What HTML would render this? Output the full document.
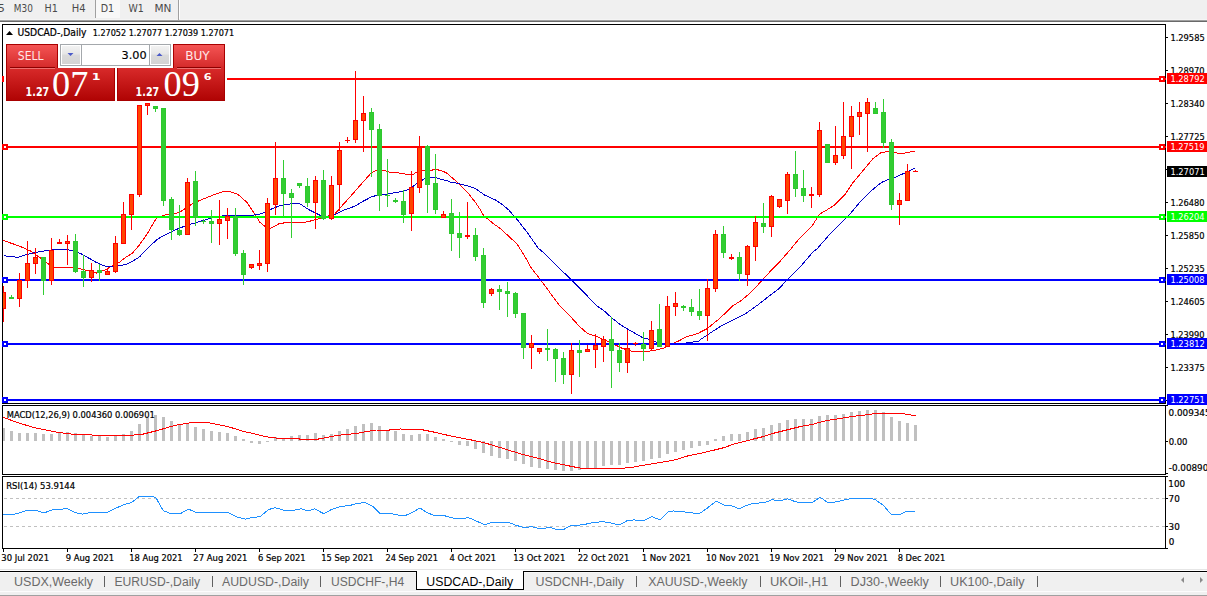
<!DOCTYPE html>
<html><head><meta charset="utf-8"><title>USDCAD-,Daily</title>
<style>
html,body{margin:0;padding:0;background:#fff;}
body{width:1207px;height:596px;overflow:hidden;}
svg{display:block;}
text{white-space:pre;}
</style></head>
<body>
<svg width="1207" height="596" viewBox="0 0 1207 596">
<rect x="0" y="0" width="1207" height="596" fill="#fff"/>
<rect x="0" y="0" width="1207" height="19" fill="#f0f0f0"/>
<rect x="0" y="19" width="1207" height="1" fill="#f5f5f5"/>
<rect x="0" y="20" width="1207" height="1" fill="#a0a0a0"/>
<rect x="0" y="21" width="1207" height="1" fill="#696969"/>
<rect x="96" y="0" width="24" height="18" fill="#f8f8f8"/>
<rect x="95" y="0" width="1" height="18" fill="#a0a0a0"/>
<rect x="178" y="0" width="1" height="20" fill="#a0a0a0"/>
<rect x="179" y="0" width="1" height="19" fill="#ffffff"/>
<text x="-2.4" y="12.3" font-family="'DejaVu Sans Condensed', 'DejaVu Sans', sans-serif" font-size="9.6" fill="#4a4a4a" text-anchor="start" font-weight="normal" textLength="7.41" lengthAdjust="spacingAndGlyphs">5</text>
<text x="13.83" y="12.3" font-family="'DejaVu Sans Condensed', 'DejaVu Sans', sans-serif" font-size="9.6" fill="#4a4a4a" text-anchor="start" font-weight="normal" textLength="19.06" lengthAdjust="spacingAndGlyphs">M30</text>
<text x="44.56" y="12.3" font-family="'DejaVu Sans Condensed', 'DejaVu Sans', sans-serif" font-size="9.6" fill="#4a4a4a" text-anchor="start" font-weight="normal" textLength="13.32" lengthAdjust="spacingAndGlyphs">H1</text>
<text x="71.73" y="12.3" font-family="'DejaVu Sans Condensed', 'DejaVu Sans', sans-serif" font-size="9.6" fill="#4a4a4a" text-anchor="start" font-weight="normal" textLength="13.82" lengthAdjust="spacingAndGlyphs">H4</text>
<text x="100.67" y="12.3" font-family="'DejaVu Sans Condensed', 'DejaVu Sans', sans-serif" font-size="9.6" fill="#4a4a4a" text-anchor="start" font-weight="normal" textLength="13.41" lengthAdjust="spacingAndGlyphs">D1</text>
<text x="128.59" y="12.3" font-family="'DejaVu Sans Condensed', 'DejaVu Sans', sans-serif" font-size="9.6" fill="#4a4a4a" text-anchor="start" font-weight="normal" textLength="15.27" lengthAdjust="spacingAndGlyphs">W1</text>
<text x="154.47" y="12.3" font-family="'DejaVu Sans Condensed', 'DejaVu Sans', sans-serif" font-size="9.6" fill="#4a4a4a" text-anchor="start" font-weight="normal" textLength="16.96" lengthAdjust="spacingAndGlyphs">MN</text>
<rect x="2" y="24" width="1164" height="1" fill="#000"/>
<rect x="2" y="403" width="1164" height="1" fill="#000"/>
<rect x="2" y="24" width="1" height="380" fill="#000"/>
<rect x="1165" y="24" width="1" height="380" fill="#000"/>
<rect x="2" y="405" width="1164" height="1" fill="#000"/>
<rect x="2" y="474" width="1164" height="1" fill="#000"/>
<rect x="2" y="405" width="1" height="70" fill="#000"/>
<rect x="1165" y="405" width="1" height="70" fill="#000"/>
<rect x="2" y="476" width="1164" height="1" fill="#000"/>
<rect x="2" y="548" width="1164" height="1" fill="#000"/>
<rect x="2" y="476" width="1" height="73" fill="#000"/>
<rect x="1165" y="476" width="1" height="73" fill="#000"/>
<rect x="1166" y="37" width="2" height="1" fill="#000"/>
<text x="1170.39" y="40.8" font-family="'DejaVu Sans Condensed', 'DejaVu Sans', sans-serif" font-size="9.4" fill="#000" text-anchor="start" font-weight="normal" textLength="34.33" lengthAdjust="spacingAndGlyphs" stroke="#000" stroke-width="0.2">1.29585</text>
<rect x="1166" y="70" width="2" height="1" fill="#000"/>
<text x="1170.39" y="73.8" font-family="'DejaVu Sans Condensed', 'DejaVu Sans', sans-serif" font-size="9.4" fill="#000" text-anchor="start" font-weight="normal" textLength="34.15" lengthAdjust="spacingAndGlyphs" stroke="#000" stroke-width="0.2">1.28970</text>
<rect x="1166" y="103" width="2" height="1" fill="#000"/>
<text x="1170.39" y="106.8" font-family="'DejaVu Sans Condensed', 'DejaVu Sans', sans-serif" font-size="9.4" fill="#000" text-anchor="start" font-weight="normal" textLength="34.15" lengthAdjust="spacingAndGlyphs" stroke="#000" stroke-width="0.2">1.28340</text>
<rect x="1166" y="136" width="2" height="1" fill="#000"/>
<text x="1170.39" y="139.8" font-family="'DejaVu Sans Condensed', 'DejaVu Sans', sans-serif" font-size="9.4" fill="#000" text-anchor="start" font-weight="normal" textLength="34.33" lengthAdjust="spacingAndGlyphs" stroke="#000" stroke-width="0.2">1.27725</text>
<rect x="1166" y="169" width="2" height="1" fill="#000"/>
<rect x="1166" y="202" width="2" height="1" fill="#000"/>
<text x="1170.39" y="205.8" font-family="'DejaVu Sans Condensed', 'DejaVu Sans', sans-serif" font-size="9.4" fill="#000" text-anchor="start" font-weight="normal" textLength="34.15" lengthAdjust="spacingAndGlyphs" stroke="#000" stroke-width="0.2">1.26480</text>
<rect x="1166" y="235" width="2" height="1" fill="#000"/>
<text x="1170.39" y="238.8" font-family="'DejaVu Sans Condensed', 'DejaVu Sans', sans-serif" font-size="9.4" fill="#000" text-anchor="start" font-weight="normal" textLength="34.15" lengthAdjust="spacingAndGlyphs" stroke="#000" stroke-width="0.2">1.25850</text>
<rect x="1166" y="268" width="2" height="1" fill="#000"/>
<text x="1170.39" y="271.8" font-family="'DejaVu Sans Condensed', 'DejaVu Sans', sans-serif" font-size="9.4" fill="#000" text-anchor="start" font-weight="normal" textLength="34.33" lengthAdjust="spacingAndGlyphs" stroke="#000" stroke-width="0.2">1.25235</text>
<rect x="1166" y="301" width="2" height="1" fill="#000"/>
<text x="1170.39" y="304.8" font-family="'DejaVu Sans Condensed', 'DejaVu Sans', sans-serif" font-size="9.4" fill="#000" text-anchor="start" font-weight="normal" textLength="34.33" lengthAdjust="spacingAndGlyphs" stroke="#000" stroke-width="0.2">1.24605</text>
<rect x="1166" y="334" width="2" height="1" fill="#000"/>
<text x="1170.39" y="337.8" font-family="'DejaVu Sans Condensed', 'DejaVu Sans', sans-serif" font-size="9.4" fill="#000" text-anchor="start" font-weight="normal" textLength="34.15" lengthAdjust="spacingAndGlyphs" stroke="#000" stroke-width="0.2">1.23990</text>
<rect x="1166" y="367" width="2" height="1" fill="#000"/>
<text x="1170.39" y="370.8" font-family="'DejaVu Sans Condensed', 'DejaVu Sans', sans-serif" font-size="9.4" fill="#000" text-anchor="start" font-weight="normal" textLength="34.33" lengthAdjust="spacingAndGlyphs" stroke="#000" stroke-width="0.2">1.23375</text>
<rect x="1166" y="400" width="2" height="1" fill="#000"/>
<defs><clipPath id="mainclip"><rect x="3" y="25" width="1162" height="378"/></clipPath><clipPath id="macdclip"><rect x="3" y="406" width="1162" height="68"/></clipPath><clipPath id="rsiclip"><rect x="3" y="477" width="1162" height="71"/></clipPath></defs>
<g clip-path="url(#mainclip)" shape-rendering="crispEdges">
<polyline points="3.5,240.5 20.5,246.5 30.5,251.0 40.5,258.0 52.5,267.0 77.5,268.0 96.5,273.0 104.5,270.3 111.3,266.3 118.6,262.9 125.4,257.5 132.1,253.5 139.5,244.8 147.5,233.4 156.5,217.9 164.6,215.1 178.7,212.8 192.8,203.4 206.9,197.5 221.0,192.1 228.0,191.1 237.4,194.0 246.8,202.2 253.9,212.8 259.8,222.2 265.6,226.9 270.5,228.5 279.7,223.3 293.8,222.2 302.8,222.6 310.5,221.0 322.2,217.9 334.0,213.9 334.5,214.3 340.5,207.5 350.5,196.3 360.5,185.0 370.8,173.3 376.1,170.6 385.5,170.9 390.5,172.6 400.5,173.1 408.5,174.7 413.6,174.1 417.6,171.6 423.7,170.6 430.7,170.6 433.7,169.6 437.7,169.8 442.8,171.1 446.8,173.1 450.5,176.5 455.5,180.5 460.5,185.6 465.6,190.6 468.6,193.6 471.6,197.7 475.7,202.7 479.7,208.7 483.7,215.8 487.7,218.8 492.8,223.3 500.5,228.6 511.2,238.6 516.6,243.3 524.7,256.1 531.4,268.2 539.4,278.2 554.2,298.4 560.5,306.7 570.6,316.7 579.0,326.0 587.4,333.5 597.4,336.9 610.9,342.7 620.9,347.8 631.0,351.1 644.4,352.0 654.5,350.3 664.6,347.8 671.3,344.4 680.5,340.0 684.8,337.4 699.0,333.1 700.5,332.0 707.2,328.6 720.6,317.7 732.4,306.0 740.8,300.9 750.8,292.5 760.9,281.6 769.3,272.4 777.7,264.0 789.5,250.6 797.8,240.5 812.6,225.1 819.6,214.1 826.7,210.0 834.7,205.0 844.8,194.9 852.8,182.8 862.9,170.8 873.0,158.7 881.0,152.6 888.1,151.6 895.1,152.6 901.2,153.7 909.2,152.2 915.3,151.2" fill="none" stroke="#ff0000" stroke-width="1" />
<polyline points="3.5,255.7 18.1,257.3 26.3,254.5 40.5,251.5 56.9,249.3 68.6,249.8 80.4,253.3 96.5,262.5 104.5,266.0 112.5,266.3 118.5,265.6 125.5,264.7 132.1,261.6 139.5,256.9 147.5,248.2 156.5,240.1 162.2,236.3 174.0,230.4 185.7,225.7 197.5,222.2 209.2,218.6 223.3,215.8 237.4,215.1 253.9,215.1 260.9,213.9 268.0,210.4 279.7,205.7 291.5,203.8 300.1,203.9 308.1,209.3 321.5,216.0 332.3,216.0 334.5,214.9 343.9,210.2 354.7,206.2 362.7,201.5 370.8,197.2 376.1,195.5 382.8,194.8 390.5,193.5 400.5,191.8 405.5,190.8 410.5,188.2 416.6,183.7 424.7,178.7 430.7,177.7 435.8,177.7 440.8,179.2 446.8,180.7 450.5,182.1 455.5,182.8 460.5,184.1 465.6,185.4 470.6,186.8 475.7,188.6 479.7,191.6 484.7,195.1 490.7,197.7 495.8,200.2 500.5,203.2 508.8,210.0 517.9,220.5 527.3,232.6 538.1,248.0 543.5,252.7 560.5,269.7 567.2,275.6 573.9,282.3 584.0,292.4 595.7,305.0 604.1,310.9 612.5,318.4 620.9,325.1 631.0,331.0 642.7,337.7 649.5,339.4 657.8,342.7 664.6,344.4 670.5,343.6 685.5,343.1 699.0,341.1 700.5,339.5 710.6,332.8 722.3,325.2 734.1,319.4 745.8,313.5 757.6,305.1 769.3,295.9 779.4,288.3 786.1,280.8 800.5,266.5 813.1,251.8 816.6,249.3 824.5,240.4 830.7,233.2 840.8,223.1 850.8,213.0 860.9,201.0 871.0,190.9 881.0,182.8 887.1,179.8 895.1,177.4 905.2,172.8 915.3,167.7" fill="none" stroke="#0000c8" stroke-width="1" />
</g>
<g shape-rendering="crispEdges">
<rect x="3" y="78" width="1163" height="2" fill="#ff0000"/>
<rect x="2" y="76" width="6" height="6" fill="#ff0000"/>
<rect x="4" y="78" width="2" height="2" fill="#fff"/>
<rect x="1159" y="76" width="6" height="6" fill="#ff0000"/>
<rect x="1161" y="78" width="2" height="2" fill="#fff"/>
<rect x="1167" y="73" width="40" height="11" fill="#ff0000"/>
<text x="1170.39" y="81.8" font-family="'DejaVu Sans Condensed', 'DejaVu Sans', sans-serif" font-size="9.4" fill="#fff" text-anchor="start" font-weight="normal" textLength="34.44" lengthAdjust="spacingAndGlyphs">1.28792</text>
<rect x="3" y="146" width="1163" height="2" fill="#ff0000"/>
<rect x="2" y="144" width="6" height="6" fill="#ff0000"/>
<rect x="4" y="146" width="2" height="2" fill="#fff"/>
<rect x="1159" y="144" width="6" height="6" fill="#ff0000"/>
<rect x="1161" y="146" width="2" height="2" fill="#fff"/>
<rect x="1167" y="141" width="40" height="11" fill="#ff0000"/>
<text x="1170.39" y="149.8" font-family="'DejaVu Sans Condensed', 'DejaVu Sans', sans-serif" font-size="9.4" fill="#fff" text-anchor="start" font-weight="normal" textLength="34.18" lengthAdjust="spacingAndGlyphs">1.27519</text>
<rect x="3" y="216" width="1163" height="2" fill="#00ff00"/>
<rect x="2" y="214" width="6" height="6" fill="#00ff00"/>
<rect x="4" y="216" width="2" height="2" fill="#fff"/>
<rect x="1159" y="214" width="6" height="6" fill="#00ff00"/>
<rect x="1161" y="216" width="2" height="2" fill="#fff"/>
<rect x="1167" y="211" width="40" height="11" fill="#00ff00"/>
<text x="1170.4" y="219.8" font-family="'DejaVu Sans Condensed', 'DejaVu Sans', sans-serif" font-size="9.4" fill="#fff" text-anchor="start" font-weight="normal" textLength="34.06" lengthAdjust="spacingAndGlyphs">1.26204</text>
<rect x="3" y="279" width="1163" height="2" fill="#0000ff"/>
<rect x="2" y="277" width="6" height="6" fill="#0000ff"/>
<rect x="4" y="279" width="2" height="2" fill="#fff"/>
<rect x="1159" y="277" width="6" height="6" fill="#0000ff"/>
<rect x="1161" y="279" width="2" height="2" fill="#fff"/>
<rect x="1167" y="274" width="40" height="11" fill="#0000ff"/>
<text x="1170.39" y="282.8" font-family="'DejaVu Sans Condensed', 'DejaVu Sans', sans-serif" font-size="9.4" fill="#fff" text-anchor="start" font-weight="normal" textLength="34.17" lengthAdjust="spacingAndGlyphs">1.25008</text>
<rect x="3" y="343" width="1163" height="2" fill="#0000ff"/>
<rect x="2" y="341" width="6" height="6" fill="#0000ff"/>
<rect x="4" y="343" width="2" height="2" fill="#fff"/>
<rect x="1159" y="341" width="6" height="6" fill="#0000ff"/>
<rect x="1161" y="343" width="2" height="2" fill="#fff"/>
<rect x="1167" y="338" width="40" height="11" fill="#0000ff"/>
<text x="1170.39" y="346.8" font-family="'DejaVu Sans Condensed', 'DejaVu Sans', sans-serif" font-size="9.4" fill="#fff" text-anchor="start" font-weight="normal" textLength="34.44" lengthAdjust="spacingAndGlyphs">1.23812</text>
<rect x="3" y="399" width="1163" height="2" fill="#0000ff"/>
<rect x="2" y="397" width="6" height="6" fill="#0000ff"/>
<rect x="4" y="399" width="2" height="2" fill="#fff"/>
<rect x="1159" y="397" width="6" height="6" fill="#0000ff"/>
<rect x="1161" y="399" width="2" height="2" fill="#fff"/>
<rect x="1167" y="394" width="40" height="11" fill="#0000ff"/>
<text x="1170.39" y="402.8" font-family="'DejaVu Sans Condensed', 'DejaVu Sans', sans-serif" font-size="9.4" fill="#fff" text-anchor="start" font-weight="normal" textLength="34.37" lengthAdjust="spacingAndGlyphs">1.22751</text>
<rect x="1167" y="166" width="40" height="11" fill="#000"/>
<text x="1170.39" y="175" font-family="'DejaVu Sans Condensed', 'DejaVu Sans', sans-serif" font-size="9.4" fill="#fff" text-anchor="start" font-weight="normal" textLength="34.37" lengthAdjust="spacingAndGlyphs">1.27071</text>
</g>
<g clip-path="url(#mainclip)" shape-rendering="crispEdges">
<rect x="3" y="286" width="1" height="36" fill="#ff0000"/>
<rect x="1" y="292" width="5" height="17" fill="#ff0000"/>
<rect x="2" y="293" width="3" height="15" fill="#ff4500"/>
<rect x="11" y="295" width="1" height="4" fill="#32cd32"/>
<rect x="9" y="297" width="5" height="2" fill="#2ec82e"/>
<rect x="19" y="273" width="1" height="34" fill="#ff0000"/>
<rect x="17" y="280" width="5" height="19" fill="#ff0000"/>
<rect x="18" y="281" width="3" height="17" fill="#ff4500"/>
<rect x="27" y="241" width="1" height="47" fill="#ff0000"/>
<rect x="25" y="263" width="5" height="18" fill="#ff0000"/>
<rect x="26" y="264" width="3" height="16" fill="#ff4500"/>
<rect x="35" y="248" width="1" height="26" fill="#ff0000"/>
<rect x="33" y="257" width="5" height="7" fill="#ff0000"/>
<rect x="34" y="258" width="3" height="5" fill="#ff4500"/>
<rect x="43" y="257" width="1" height="38" fill="#32cd32"/>
<rect x="41" y="257" width="5" height="24" fill="#2ec82e"/>
<rect x="42" y="258" width="3" height="22" fill="#32cd32"/>
<rect x="51" y="238" width="1" height="47" fill="#ff0000"/>
<rect x="49" y="250" width="5" height="31" fill="#ff0000"/>
<rect x="50" y="251" width="3" height="29" fill="#ff4500"/>
<rect x="59" y="239" width="1" height="5" fill="#ff0000"/>
<rect x="57" y="242" width="5" height="2" fill="#ff0000"/>
<rect x="67" y="235" width="1" height="30" fill="#ff0000"/>
<rect x="65" y="241" width="5" height="3" fill="#ff0000"/>
<rect x="66" y="242" width="3" height="1" fill="#ff4500"/>
<rect x="75" y="234" width="1" height="39" fill="#32cd32"/>
<rect x="73" y="241" width="5" height="31" fill="#2ec82e"/>
<rect x="74" y="242" width="3" height="29" fill="#32cd32"/>
<rect x="83" y="255" width="1" height="32" fill="#32cd32"/>
<rect x="81" y="271" width="5" height="7" fill="#2ec82e"/>
<rect x="82" y="272" width="3" height="5" fill="#32cd32"/>
<rect x="91" y="263" width="1" height="19" fill="#ff0000"/>
<rect x="89" y="270" width="5" height="8" fill="#ff0000"/>
<rect x="90" y="271" width="3" height="6" fill="#ff4500"/>
<rect x="99" y="264" width="1" height="17" fill="#32cd32"/>
<rect x="97" y="270" width="5" height="3" fill="#2ec82e"/>
<rect x="98" y="271" width="3" height="1" fill="#32cd32"/>
<rect x="107" y="269" width="1" height="6" fill="#ff0000"/>
<rect x="105" y="271" width="5" height="4" fill="#ff0000"/>
<rect x="106" y="272" width="3" height="2" fill="#ff4500"/>
<rect x="115" y="236" width="1" height="37" fill="#ff0000"/>
<rect x="113" y="243" width="5" height="29" fill="#ff0000"/>
<rect x="114" y="244" width="3" height="27" fill="#ff4500"/>
<rect x="123" y="202" width="1" height="42" fill="#ff0000"/>
<rect x="121" y="214" width="5" height="30" fill="#ff0000"/>
<rect x="122" y="215" width="3" height="28" fill="#ff4500"/>
<rect x="131" y="194" width="1" height="36" fill="#ff0000"/>
<rect x="129" y="194" width="5" height="21" fill="#ff0000"/>
<rect x="130" y="195" width="3" height="19" fill="#ff4500"/>
<rect x="139" y="105" width="1" height="92" fill="#ff0000"/>
<rect x="137" y="105" width="5" height="90" fill="#ff0000"/>
<rect x="138" y="106" width="3" height="88" fill="#ff4500"/>
<rect x="147" y="103" width="1" height="12" fill="#ff0000"/>
<rect x="145" y="103" width="5" height="3" fill="#ff0000"/>
<rect x="146" y="104" width="3" height="1" fill="#ff4500"/>
<rect x="155" y="106" width="1" height="6" fill="#32cd32"/>
<rect x="153" y="106" width="5" height="3" fill="#2ec82e"/>
<rect x="154" y="107" width="3" height="1" fill="#32cd32"/>
<rect x="163" y="108" width="1" height="98" fill="#32cd32"/>
<rect x="161" y="108" width="5" height="93" fill="#2ec82e"/>
<rect x="162" y="109" width="3" height="91" fill="#32cd32"/>
<rect x="171" y="197" width="1" height="43" fill="#32cd32"/>
<rect x="169" y="199" width="5" height="31" fill="#2ec82e"/>
<rect x="170" y="200" width="3" height="29" fill="#32cd32"/>
<rect x="179" y="205" width="1" height="31" fill="#32cd32"/>
<rect x="177" y="230" width="5" height="5" fill="#2ec82e"/>
<rect x="178" y="231" width="3" height="3" fill="#32cd32"/>
<rect x="187" y="178" width="1" height="57" fill="#ff0000"/>
<rect x="185" y="182" width="5" height="53" fill="#ff0000"/>
<rect x="186" y="183" width="3" height="51" fill="#ff4500"/>
<rect x="195" y="171" width="1" height="55" fill="#32cd32"/>
<rect x="193" y="181" width="5" height="37" fill="#2ec82e"/>
<rect x="194" y="182" width="3" height="35" fill="#32cd32"/>
<rect x="203" y="219" width="1" height="5" fill="#32cd32"/>
<rect x="201" y="221" width="5" height="1" fill="#2ec82e"/>
<rect x="211" y="210" width="1" height="33" fill="#32cd32"/>
<rect x="209" y="221" width="5" height="3" fill="#2ec82e"/>
<rect x="210" y="222" width="3" height="1" fill="#32cd32"/>
<rect x="219" y="200" width="1" height="45" fill="#ff0000"/>
<rect x="217" y="219" width="5" height="5" fill="#ff0000"/>
<rect x="218" y="220" width="3" height="3" fill="#ff4500"/>
<rect x="227" y="208" width="1" height="31" fill="#ff0000"/>
<rect x="225" y="216" width="5" height="5" fill="#ff0000"/>
<rect x="226" y="217" width="3" height="3" fill="#ff4500"/>
<rect x="235" y="208" width="1" height="48" fill="#32cd32"/>
<rect x="233" y="216" width="5" height="38" fill="#2ec82e"/>
<rect x="234" y="217" width="3" height="36" fill="#32cd32"/>
<rect x="243" y="250" width="1" height="35" fill="#32cd32"/>
<rect x="241" y="253" width="5" height="22" fill="#2ec82e"/>
<rect x="242" y="254" width="3" height="20" fill="#32cd32"/>
<rect x="251" y="264" width="1" height="5" fill="#ff0000"/>
<rect x="249" y="264" width="5" height="4" fill="#ff0000"/>
<rect x="250" y="265" width="3" height="2" fill="#ff4500"/>
<rect x="259" y="250" width="1" height="20" fill="#ff0000"/>
<rect x="257" y="263" width="5" height="3" fill="#ff0000"/>
<rect x="258" y="264" width="3" height="1" fill="#ff4500"/>
<rect x="267" y="198" width="1" height="74" fill="#ff0000"/>
<rect x="265" y="203" width="5" height="61" fill="#ff0000"/>
<rect x="266" y="204" width="3" height="59" fill="#ff4500"/>
<rect x="275" y="142" width="1" height="73" fill="#ff0000"/>
<rect x="273" y="178" width="5" height="27" fill="#ff0000"/>
<rect x="274" y="179" width="3" height="25" fill="#ff4500"/>
<rect x="283" y="160" width="1" height="57" fill="#32cd32"/>
<rect x="281" y="178" width="5" height="16" fill="#2ec82e"/>
<rect x="282" y="179" width="3" height="14" fill="#32cd32"/>
<rect x="291" y="189" width="1" height="49" fill="#32cd32"/>
<rect x="289" y="193" width="5" height="5" fill="#2ec82e"/>
<rect x="290" y="194" width="3" height="3" fill="#32cd32"/>
<rect x="299" y="183" width="1" height="5" fill="#32cd32"/>
<rect x="297" y="183" width="5" height="3" fill="#2ec82e"/>
<rect x="298" y="184" width="3" height="1" fill="#32cd32"/>
<rect x="307" y="178" width="1" height="29" fill="#32cd32"/>
<rect x="305" y="186" width="5" height="17" fill="#2ec82e"/>
<rect x="306" y="187" width="3" height="15" fill="#32cd32"/>
<rect x="315" y="176" width="1" height="53" fill="#ff0000"/>
<rect x="313" y="180" width="5" height="23" fill="#ff0000"/>
<rect x="314" y="181" width="3" height="21" fill="#ff4500"/>
<rect x="323" y="170" width="1" height="50" fill="#32cd32"/>
<rect x="321" y="180" width="5" height="39" fill="#2ec82e"/>
<rect x="322" y="181" width="3" height="37" fill="#32cd32"/>
<rect x="331" y="176" width="1" height="44" fill="#ff0000"/>
<rect x="329" y="185" width="5" height="34" fill="#ff0000"/>
<rect x="330" y="186" width="3" height="32" fill="#ff4500"/>
<rect x="339" y="142" width="1" height="69" fill="#ff0000"/>
<rect x="337" y="150" width="5" height="35" fill="#ff0000"/>
<rect x="338" y="151" width="3" height="33" fill="#ff4500"/>
<rect x="347" y="137" width="1" height="6" fill="#ff0000"/>
<rect x="345" y="140" width="5" height="1" fill="#ff0000"/>
<rect x="355" y="71" width="1" height="72" fill="#ff0000"/>
<rect x="353" y="120" width="5" height="20" fill="#ff0000"/>
<rect x="354" y="121" width="3" height="18" fill="#ff4500"/>
<rect x="363" y="96" width="1" height="56" fill="#ff0000"/>
<rect x="361" y="113" width="5" height="8" fill="#ff0000"/>
<rect x="362" y="114" width="3" height="6" fill="#ff4500"/>
<rect x="371" y="108" width="1" height="69" fill="#32cd32"/>
<rect x="369" y="112" width="5" height="18" fill="#2ec82e"/>
<rect x="370" y="113" width="3" height="16" fill="#32cd32"/>
<rect x="379" y="124" width="1" height="87" fill="#32cd32"/>
<rect x="377" y="129" width="5" height="67" fill="#2ec82e"/>
<rect x="378" y="130" width="3" height="65" fill="#32cd32"/>
<rect x="387" y="159" width="1" height="48" fill="#32cd32"/>
<rect x="385" y="195" width="5" height="1" fill="#2ec82e"/>
<rect x="395" y="198" width="1" height="5" fill="#32cd32"/>
<rect x="393" y="200" width="5" height="2" fill="#2ec82e"/>
<rect x="403" y="190" width="1" height="33" fill="#32cd32"/>
<rect x="401" y="201" width="5" height="14" fill="#2ec82e"/>
<rect x="402" y="202" width="3" height="12" fill="#32cd32"/>
<rect x="411" y="171" width="1" height="60" fill="#ff0000"/>
<rect x="409" y="187" width="5" height="27" fill="#ff0000"/>
<rect x="410" y="188" width="3" height="25" fill="#ff4500"/>
<rect x="419" y="136" width="1" height="57" fill="#ff0000"/>
<rect x="417" y="147" width="5" height="41" fill="#ff0000"/>
<rect x="418" y="148" width="3" height="39" fill="#ff4500"/>
<rect x="427" y="145" width="1" height="68" fill="#32cd32"/>
<rect x="425" y="146" width="5" height="39" fill="#2ec82e"/>
<rect x="426" y="147" width="3" height="37" fill="#32cd32"/>
<rect x="435" y="154" width="1" height="60" fill="#32cd32"/>
<rect x="433" y="183" width="5" height="27" fill="#2ec82e"/>
<rect x="434" y="184" width="3" height="25" fill="#32cd32"/>
<rect x="443" y="211" width="1" height="7" fill="#ff0000"/>
<rect x="441" y="214" width="5" height="4" fill="#ff0000"/>
<rect x="442" y="215" width="3" height="2" fill="#ff4500"/>
<rect x="451" y="199" width="1" height="52" fill="#32cd32"/>
<rect x="449" y="213" width="5" height="21" fill="#2ec82e"/>
<rect x="450" y="214" width="3" height="19" fill="#32cd32"/>
<rect x="459" y="212" width="1" height="46" fill="#32cd32"/>
<rect x="457" y="233" width="5" height="5" fill="#2ec82e"/>
<rect x="458" y="234" width="3" height="3" fill="#32cd32"/>
<rect x="467" y="202" width="1" height="37" fill="#ff0000"/>
<rect x="465" y="235" width="5" height="2" fill="#ff0000"/>
<rect x="475" y="228" width="1" height="33" fill="#32cd32"/>
<rect x="473" y="235" width="5" height="22" fill="#2ec82e"/>
<rect x="474" y="236" width="3" height="20" fill="#32cd32"/>
<rect x="483" y="248" width="1" height="60" fill="#32cd32"/>
<rect x="481" y="255" width="5" height="48" fill="#2ec82e"/>
<rect x="482" y="256" width="3" height="46" fill="#32cd32"/>
<rect x="491" y="288" width="1" height="8" fill="#ff0000"/>
<rect x="489" y="289" width="5" height="5" fill="#ff0000"/>
<rect x="490" y="290" width="3" height="3" fill="#ff4500"/>
<rect x="499" y="285" width="1" height="25" fill="#32cd32"/>
<rect x="497" y="289" width="5" height="3" fill="#2ec82e"/>
<rect x="498" y="290" width="3" height="1" fill="#32cd32"/>
<rect x="507" y="282" width="1" height="35" fill="#32cd32"/>
<rect x="505" y="291" width="5" height="3" fill="#2ec82e"/>
<rect x="506" y="292" width="3" height="1" fill="#32cd32"/>
<rect x="515" y="292" width="1" height="26" fill="#32cd32"/>
<rect x="513" y="293" width="5" height="21" fill="#2ec82e"/>
<rect x="514" y="294" width="3" height="19" fill="#32cd32"/>
<rect x="523" y="313" width="1" height="46" fill="#32cd32"/>
<rect x="521" y="313" width="5" height="35" fill="#2ec82e"/>
<rect x="522" y="314" width="3" height="33" fill="#32cd32"/>
<rect x="531" y="335" width="1" height="34" fill="#ff0000"/>
<rect x="529" y="343" width="5" height="5" fill="#ff0000"/>
<rect x="530" y="344" width="3" height="3" fill="#ff4500"/>
<rect x="539" y="348" width="1" height="6" fill="#ff0000"/>
<rect x="537" y="348" width="5" height="4" fill="#ff0000"/>
<rect x="538" y="349" width="3" height="2" fill="#ff4500"/>
<rect x="547" y="329" width="1" height="32" fill="#32cd32"/>
<rect x="545" y="348" width="5" height="2" fill="#2ec82e"/>
<rect x="555" y="348" width="1" height="34" fill="#32cd32"/>
<rect x="553" y="349" width="5" height="10" fill="#2ec82e"/>
<rect x="554" y="350" width="3" height="8" fill="#32cd32"/>
<rect x="563" y="352" width="1" height="32" fill="#32cd32"/>
<rect x="561" y="358" width="5" height="17" fill="#2ec82e"/>
<rect x="562" y="359" width="3" height="15" fill="#32cd32"/>
<rect x="571" y="343" width="1" height="51" fill="#ff0000"/>
<rect x="569" y="350" width="5" height="25" fill="#ff0000"/>
<rect x="570" y="351" width="3" height="23" fill="#ff4500"/>
<rect x="579" y="340" width="1" height="37" fill="#32cd32"/>
<rect x="577" y="350" width="5" height="3" fill="#2ec82e"/>
<rect x="578" y="351" width="3" height="1" fill="#32cd32"/>
<rect x="587" y="345" width="1" height="7" fill="#ff0000"/>
<rect x="585" y="349" width="5" height="3" fill="#ff0000"/>
<rect x="586" y="350" width="3" height="1" fill="#ff4500"/>
<rect x="595" y="334" width="1" height="34" fill="#ff0000"/>
<rect x="593" y="345" width="5" height="5" fill="#ff0000"/>
<rect x="594" y="346" width="3" height="3" fill="#ff4500"/>
<rect x="603" y="336" width="1" height="26" fill="#ff0000"/>
<rect x="601" y="339" width="5" height="8" fill="#ff0000"/>
<rect x="602" y="340" width="3" height="6" fill="#ff4500"/>
<rect x="611" y="317" width="1" height="71" fill="#32cd32"/>
<rect x="609" y="339" width="5" height="12" fill="#2ec82e"/>
<rect x="610" y="340" width="3" height="10" fill="#32cd32"/>
<rect x="619" y="343" width="1" height="29" fill="#32cd32"/>
<rect x="617" y="350" width="5" height="13" fill="#2ec82e"/>
<rect x="618" y="351" width="3" height="11" fill="#32cd32"/>
<rect x="627" y="330" width="1" height="43" fill="#ff0000"/>
<rect x="625" y="348" width="5" height="15" fill="#ff0000"/>
<rect x="626" y="349" width="3" height="13" fill="#ff4500"/>
<rect x="635" y="342" width="1" height="4" fill="#ff0000"/>
<rect x="633" y="343" width="5" height="1" fill="#ff0000"/>
<rect x="643" y="332" width="1" height="29" fill="#32cd32"/>
<rect x="641" y="344" width="5" height="5" fill="#2ec82e"/>
<rect x="642" y="345" width="3" height="3" fill="#32cd32"/>
<rect x="651" y="321" width="1" height="29" fill="#ff0000"/>
<rect x="649" y="330" width="5" height="19" fill="#ff0000"/>
<rect x="650" y="331" width="3" height="17" fill="#ff4500"/>
<rect x="659" y="304" width="1" height="43" fill="#32cd32"/>
<rect x="657" y="329" width="5" height="18" fill="#2ec82e"/>
<rect x="658" y="330" width="3" height="16" fill="#32cd32"/>
<rect x="667" y="296" width="1" height="51" fill="#ff0000"/>
<rect x="665" y="306" width="5" height="41" fill="#ff0000"/>
<rect x="666" y="307" width="3" height="39" fill="#ff4500"/>
<rect x="675" y="292" width="1" height="24" fill="#ff0000"/>
<rect x="673" y="303" width="5" height="4" fill="#ff0000"/>
<rect x="674" y="304" width="3" height="2" fill="#ff4500"/>
<rect x="683" y="305" width="1" height="6" fill="#32cd32"/>
<rect x="681" y="306" width="5" height="2" fill="#2ec82e"/>
<rect x="691" y="299" width="1" height="17" fill="#32cd32"/>
<rect x="689" y="307" width="5" height="5" fill="#2ec82e"/>
<rect x="690" y="308" width="3" height="3" fill="#32cd32"/>
<rect x="699" y="289" width="1" height="31" fill="#32cd32"/>
<rect x="697" y="311" width="5" height="5" fill="#2ec82e"/>
<rect x="698" y="312" width="3" height="3" fill="#32cd32"/>
<rect x="707" y="279" width="1" height="62" fill="#ff0000"/>
<rect x="705" y="288" width="5" height="28" fill="#ff0000"/>
<rect x="706" y="289" width="3" height="26" fill="#ff4500"/>
<rect x="715" y="230" width="1" height="62" fill="#ff0000"/>
<rect x="713" y="234" width="5" height="55" fill="#ff0000"/>
<rect x="714" y="235" width="3" height="53" fill="#ff4500"/>
<rect x="723" y="226" width="1" height="32" fill="#32cd32"/>
<rect x="721" y="234" width="5" height="19" fill="#2ec82e"/>
<rect x="722" y="235" width="3" height="17" fill="#32cd32"/>
<rect x="731" y="254" width="1" height="6" fill="#ff0000"/>
<rect x="729" y="257" width="5" height="2" fill="#ff0000"/>
<rect x="739" y="252" width="1" height="29" fill="#32cd32"/>
<rect x="737" y="257" width="5" height="17" fill="#2ec82e"/>
<rect x="738" y="258" width="3" height="15" fill="#32cd32"/>
<rect x="747" y="245" width="1" height="41" fill="#ff0000"/>
<rect x="745" y="246" width="5" height="29" fill="#ff0000"/>
<rect x="746" y="247" width="3" height="27" fill="#ff4500"/>
<rect x="755" y="216" width="1" height="45" fill="#ff0000"/>
<rect x="753" y="222" width="5" height="25" fill="#ff0000"/>
<rect x="754" y="223" width="3" height="23" fill="#ff4500"/>
<rect x="763" y="203" width="1" height="30" fill="#32cd32"/>
<rect x="761" y="223" width="5" height="4" fill="#2ec82e"/>
<rect x="762" y="224" width="3" height="2" fill="#32cd32"/>
<rect x="771" y="195" width="1" height="42" fill="#ff0000"/>
<rect x="769" y="196" width="5" height="31" fill="#ff0000"/>
<rect x="770" y="197" width="3" height="29" fill="#ff4500"/>
<rect x="779" y="199" width="1" height="9" fill="#ff0000"/>
<rect x="777" y="199" width="5" height="8" fill="#ff0000"/>
<rect x="778" y="200" width="3" height="6" fill="#ff4500"/>
<rect x="787" y="172" width="1" height="42" fill="#ff0000"/>
<rect x="785" y="174" width="5" height="27" fill="#ff0000"/>
<rect x="786" y="175" width="3" height="25" fill="#ff4500"/>
<rect x="795" y="151" width="1" height="46" fill="#32cd32"/>
<rect x="793" y="174" width="5" height="15" fill="#2ec82e"/>
<rect x="794" y="175" width="3" height="13" fill="#32cd32"/>
<rect x="803" y="170" width="1" height="32" fill="#32cd32"/>
<rect x="801" y="188" width="5" height="8" fill="#2ec82e"/>
<rect x="802" y="189" width="3" height="6" fill="#32cd32"/>
<rect x="811" y="187" width="1" height="21" fill="#ff0000"/>
<rect x="809" y="194" width="5" height="2" fill="#ff0000"/>
<rect x="819" y="122" width="1" height="75" fill="#ff0000"/>
<rect x="817" y="130" width="5" height="65" fill="#ff0000"/>
<rect x="818" y="131" width="3" height="63" fill="#ff4500"/>
<rect x="827" y="144" width="1" height="19" fill="#32cd32"/>
<rect x="825" y="144" width="5" height="19" fill="#2ec82e"/>
<rect x="826" y="145" width="3" height="17" fill="#32cd32"/>
<rect x="835" y="126" width="1" height="39" fill="#ff0000"/>
<rect x="833" y="155" width="5" height="8" fill="#ff0000"/>
<rect x="834" y="156" width="3" height="6" fill="#ff4500"/>
<rect x="843" y="102" width="1" height="57" fill="#ff0000"/>
<rect x="841" y="136" width="5" height="20" fill="#ff0000"/>
<rect x="842" y="137" width="3" height="18" fill="#ff4500"/>
<rect x="851" y="106" width="1" height="63" fill="#ff0000"/>
<rect x="849" y="116" width="5" height="21" fill="#ff0000"/>
<rect x="850" y="117" width="3" height="19" fill="#ff4500"/>
<rect x="859" y="102" width="1" height="33" fill="#ff0000"/>
<rect x="857" y="112" width="5" height="5" fill="#ff0000"/>
<rect x="858" y="113" width="3" height="3" fill="#ff4500"/>
<rect x="867" y="98" width="1" height="54" fill="#ff0000"/>
<rect x="865" y="102" width="5" height="12" fill="#ff0000"/>
<rect x="866" y="103" width="3" height="10" fill="#ff4500"/>
<rect x="875" y="102" width="1" height="12" fill="#32cd32"/>
<rect x="873" y="108" width="5" height="6" fill="#2ec82e"/>
<rect x="874" y="109" width="3" height="4" fill="#32cd32"/>
<rect x="883" y="99" width="1" height="49" fill="#32cd32"/>
<rect x="881" y="112" width="5" height="31" fill="#2ec82e"/>
<rect x="882" y="113" width="3" height="29" fill="#32cd32"/>
<rect x="891" y="139" width="1" height="71" fill="#32cd32"/>
<rect x="889" y="142" width="5" height="63" fill="#2ec82e"/>
<rect x="890" y="143" width="3" height="61" fill="#32cd32"/>
<rect x="899" y="193" width="1" height="32" fill="#ff0000"/>
<rect x="897" y="200" width="5" height="5" fill="#ff0000"/>
<rect x="898" y="201" width="3" height="3" fill="#ff4500"/>
<rect x="907" y="164" width="1" height="37" fill="#ff0000"/>
<rect x="905" y="171" width="5" height="30" fill="#ff0000"/>
<rect x="906" y="172" width="3" height="28" fill="#ff4500"/>
<rect x="915" y="170" width="1" height="2" fill="#ff0000"/>
<rect x="913" y="171" width="5" height="1" fill="#ff0000"/>
</g>
<polygon points="6,35 13,35 9.5,31" fill="#000"/>
<text x="17.5" y="36" font-family="'DejaVu Sans Condensed', 'DejaVu Sans', sans-serif" font-size="9.6" fill="#000" text-anchor="start" font-weight="normal" textLength="68.97" lengthAdjust="spacingAndGlyphs" stroke="#000" stroke-width="0.2">USDCAD-,Daily</text>
<text x="92.71" y="36" font-family="'DejaVu Sans Condensed', 'DejaVu Sans', sans-serif" font-size="9.4" fill="#000" text-anchor="start" font-weight="normal" textLength="141.43" lengthAdjust="spacingAndGlyphs" stroke="#000" stroke-width="0.2">1.27052 1.27077 1.27039 1.27071</text>
<defs>
<linearGradient id="gsell" x1="0" y1="0" x2="0" y2="1">
<stop offset="0" stop-color="#f45454"/><stop offset="1" stop-color="#d42a2a"/></linearGradient>
<linearGradient id="gprice" x1="0" y1="0" x2="0" y2="1">
<stop offset="0" stop-color="#d82a2a"/><stop offset="1" stop-color="#b00404"/></linearGradient>
<linearGradient id="gbtn" x1="0" y1="0" x2="0" y2="1">
<stop offset="0" stop-color="#f2f2f2"/><stop offset="0.45" stop-color="#e6e6e6"/><stop offset="0.5" stop-color="#dadada"/><stop offset="1" stop-color="#d4d4d4"/></linearGradient>
</defs>
<g shape-rendering="crispEdges">
<rect x="4" y="42" width="223" height="61" fill="#ffffff"/>
<rect x="6" y="44" width="52" height="24" fill="#a80000"/>
<rect x="7" y="45" width="50" height="23" fill="url(#gsell)"/>
<rect x="173" y="44" width="52" height="24" fill="#a80000"/>
<rect x="174" y="45" width="50" height="23" fill="url(#gsell)"/>
<rect x="6" y="68" width="109" height="33" fill="#a80000"/>
<rect x="7" y="68" width="107" height="32" fill="url(#gprice)"/>
<rect x="117" y="68" width="108" height="33" fill="#a80000"/>
<rect x="118" y="68" width="106" height="32" fill="url(#gprice)"/>
<rect x="7" y="66" width="50" height="3" fill="#d52b2b"/>
<rect x="174" y="66" width="50" height="3" fill="#d52b2b"/>
<rect x="10" y="67" width="45" height="1" fill="#8c0000"/>
<rect x="10" y="68" width="45" height="1" fill="#ee7070"/>
<rect x="177" y="67" width="44" height="1" fill="#8c0000"/>
<rect x="177" y="68" width="44" height="1" fill="#ee7070"/>
<rect x="60" y="44" width="111" height="22" fill="#a4a8ac"/>
<rect x="61" y="45" width="109" height="20" fill="#ffffff"/>
<rect x="62" y="46" width="18" height="18" fill="url(#gbtn)"/>
<rect x="81" y="45" width="1" height="20" fill="#a4a8ac"/>
<rect x="151" y="46" width="18" height="18" fill="url(#gbtn)"/>
<rect x="149" y="45" width="1" height="20" fill="#a4a8ac"/>
</g>
<polygon points="67.5,53 73.5,53 70.5,56" fill="#4a5ac8"/>
<polygon points="156.5,56 162.5,56 159.5,53" fill="#4a5ac8"/>
<text x="121.64" y="58.6" font-family="'DejaVu Sans Condensed', 'DejaVu Sans', sans-serif" font-size="10.9" fill="#000" text-anchor="start" font-weight="normal" textLength="25.1" lengthAdjust="spacingAndGlyphs" stroke="#000" stroke-width="0.15">3.00</text>
<text x="17.79" y="60" font-family="'DejaVu Sans Condensed', 'DejaVu Sans', sans-serif" font-size="11.5" fill="#ffe8e8" text-anchor="start" font-weight="normal" textLength="25.87" lengthAdjust="spacingAndGlyphs">SELL</text>
<text x="185.22" y="60" font-family="'DejaVu Sans Condensed', 'DejaVu Sans', sans-serif" font-size="11.5" fill="#ffe8e8" text-anchor="start" font-weight="normal" textLength="24.55" lengthAdjust="spacingAndGlyphs">BUY</text>
<text x="25.62" y="96" font-family="'DejaVu Sans Condensed', 'DejaVu Sans', sans-serif" font-size="11.4" fill="#fff" text-anchor="start" font-weight="bold" textLength="23.64" lengthAdjust="spacingAndGlyphs">1.27</text>
<text x="52.12" y="96.2" font-family="'Liberation Serif', 'Times New Roman', serif" font-size="35.5" fill="#fff" text-anchor="start" font-weight="normal" textLength="36.22" lengthAdjust="spacingAndGlyphs">07</text>
<text x="91.88" y="80.3" font-family="'DejaVu Sans Condensed', 'DejaVu Sans', sans-serif" font-size="9.3" fill="#fff" text-anchor="start" font-weight="bold" textLength="8.78" lengthAdjust="spacingAndGlyphs">1</text>
<text x="135.62" y="96" font-family="'DejaVu Sans Condensed', 'DejaVu Sans', sans-serif" font-size="11.4" fill="#fff" text-anchor="start" font-weight="bold" textLength="23.64" lengthAdjust="spacingAndGlyphs">1.27</text>
<text x="163.62" y="96.2" font-family="'Liberation Serif', 'Times New Roman', serif" font-size="35.5" fill="#fff" text-anchor="start" font-weight="normal" textLength="36.27" lengthAdjust="spacingAndGlyphs">09</text>
<text x="203.71" y="80.3" font-family="'DejaVu Sans Condensed', 'DejaVu Sans', sans-serif" font-size="9.3" fill="#fff" text-anchor="start" font-weight="bold" textLength="7.79" lengthAdjust="spacingAndGlyphs">6</text>
<g clip-path="url(#macdclip)" shape-rendering="crispEdges">
<rect x="2" y="428" width="3" height="13" fill="#c0c0c0"/>
<rect x="10" y="431" width="3" height="10" fill="#c0c0c0"/>
<rect x="18" y="433" width="3" height="8" fill="#c0c0c0"/>
<rect x="26" y="433" width="3" height="8" fill="#c0c0c0"/>
<rect x="34" y="433" width="3" height="8" fill="#c0c0c0"/>
<rect x="42" y="434" width="3" height="7" fill="#c0c0c0"/>
<rect x="50" y="434" width="3" height="7" fill="#c0c0c0"/>
<rect x="58" y="432" width="3" height="9" fill="#c0c0c0"/>
<rect x="66" y="432" width="3" height="9" fill="#c0c0c0"/>
<rect x="74" y="433" width="3" height="8" fill="#c0c0c0"/>
<rect x="82" y="435" width="3" height="6" fill="#c0c0c0"/>
<rect x="90" y="436" width="3" height="5" fill="#c0c0c0"/>
<rect x="98" y="436" width="3" height="5" fill="#c0c0c0"/>
<rect x="106" y="437" width="3" height="4" fill="#c0c0c0"/>
<rect x="114" y="436" width="3" height="5" fill="#c0c0c0"/>
<rect x="122" y="434" width="3" height="7" fill="#c0c0c0"/>
<rect x="130" y="431" width="3" height="10" fill="#c0c0c0"/>
<rect x="138" y="424" width="3" height="17" fill="#c0c0c0"/>
<rect x="146" y="418" width="3" height="23" fill="#c0c0c0"/>
<rect x="154" y="415" width="3" height="26" fill="#c0c0c0"/>
<rect x="162" y="417" width="3" height="24" fill="#c0c0c0"/>
<rect x="170" y="421" width="3" height="20" fill="#c0c0c0"/>
<rect x="178" y="425" width="3" height="16" fill="#c0c0c0"/>
<rect x="186" y="424" width="3" height="17" fill="#c0c0c0"/>
<rect x="194" y="427" width="3" height="14" fill="#c0c0c0"/>
<rect x="202" y="429" width="3" height="12" fill="#c0c0c0"/>
<rect x="210" y="431" width="3" height="10" fill="#c0c0c0"/>
<rect x="218" y="432" width="3" height="9" fill="#c0c0c0"/>
<rect x="226" y="433" width="3" height="8" fill="#c0c0c0"/>
<rect x="234" y="436" width="3" height="5" fill="#c0c0c0"/>
<rect x="242" y="439" width="3" height="2" fill="#c0c0c0"/>
<rect x="250" y="441" width="3" height="2" fill="#c0c0c0"/>
<rect x="258" y="441" width="3" height="3" fill="#c0c0c0"/>
<rect x="266" y="441" width="3" height="1" fill="#c0c0c0"/>
<rect x="274" y="437" width="3" height="4" fill="#c0c0c0"/>
<rect x="282" y="438" width="3" height="3" fill="#c0c0c0"/>
<rect x="290" y="436" width="3" height="5" fill="#c0c0c0"/>
<rect x="298" y="435" width="3" height="6" fill="#c0c0c0"/>
<rect x="306" y="435" width="3" height="6" fill="#c0c0c0"/>
<rect x="314" y="433" width="3" height="8" fill="#c0c0c0"/>
<rect x="322" y="435" width="3" height="6" fill="#c0c0c0"/>
<rect x="330" y="434" width="3" height="7" fill="#c0c0c0"/>
<rect x="338" y="431" width="3" height="10" fill="#c0c0c0"/>
<rect x="346" y="429" width="3" height="12" fill="#c0c0c0"/>
<rect x="354" y="426" width="3" height="15" fill="#c0c0c0"/>
<rect x="362" y="424" width="3" height="17" fill="#c0c0c0"/>
<rect x="370" y="423" width="3" height="18" fill="#c0c0c0"/>
<rect x="378" y="426" width="3" height="15" fill="#c0c0c0"/>
<rect x="386" y="430" width="3" height="11" fill="#c0c0c0"/>
<rect x="394" y="431" width="3" height="10" fill="#c0c0c0"/>
<rect x="402" y="434" width="3" height="7" fill="#c0c0c0"/>
<rect x="410" y="435" width="3" height="6" fill="#c0c0c0"/>
<rect x="418" y="434" width="3" height="7" fill="#c0c0c0"/>
<rect x="426" y="434" width="3" height="7" fill="#c0c0c0"/>
<rect x="434" y="437" width="3" height="4" fill="#c0c0c0"/>
<rect x="442" y="439" width="3" height="2" fill="#c0c0c0"/>
<rect x="450" y="441" width="3" height="1" fill="#c0c0c0"/>
<rect x="458" y="441" width="3" height="4" fill="#c0c0c0"/>
<rect x="466" y="441" width="3" height="5" fill="#c0c0c0"/>
<rect x="474" y="441" width="3" height="8" fill="#c0c0c0"/>
<rect x="482" y="441" width="3" height="12" fill="#c0c0c0"/>
<rect x="490" y="441" width="3" height="15" fill="#c0c0c0"/>
<rect x="498" y="441" width="3" height="17" fill="#c0c0c0"/>
<rect x="506" y="441" width="3" height="18" fill="#c0c0c0"/>
<rect x="514" y="441" width="3" height="20" fill="#c0c0c0"/>
<rect x="522" y="441" width="3" height="23" fill="#c0c0c0"/>
<rect x="530" y="441" width="3" height="26" fill="#c0c0c0"/>
<rect x="538" y="441" width="3" height="27" fill="#c0c0c0"/>
<rect x="546" y="441" width="3" height="28" fill="#c0c0c0"/>
<rect x="554" y="441" width="3" height="29" fill="#c0c0c0"/>
<rect x="562" y="441" width="3" height="30" fill="#c0c0c0"/>
<rect x="570" y="441" width="3" height="30" fill="#c0c0c0"/>
<rect x="578" y="441" width="3" height="29" fill="#c0c0c0"/>
<rect x="586" y="441" width="3" height="27" fill="#c0c0c0"/>
<rect x="594" y="441" width="3" height="27" fill="#c0c0c0"/>
<rect x="602" y="441" width="3" height="25" fill="#c0c0c0"/>
<rect x="610" y="441" width="3" height="24" fill="#c0c0c0"/>
<rect x="618" y="441" width="3" height="24" fill="#c0c0c0"/>
<rect x="626" y="441" width="3" height="22" fill="#c0c0c0"/>
<rect x="634" y="441" width="3" height="21" fill="#c0c0c0"/>
<rect x="642" y="441" width="3" height="20" fill="#c0c0c0"/>
<rect x="650" y="441" width="3" height="18" fill="#c0c0c0"/>
<rect x="658" y="441" width="3" height="17" fill="#c0c0c0"/>
<rect x="666" y="441" width="3" height="13" fill="#c0c0c0"/>
<rect x="674" y="441" width="3" height="11" fill="#c0c0c0"/>
<rect x="682" y="441" width="3" height="9" fill="#c0c0c0"/>
<rect x="690" y="441" width="3" height="7" fill="#c0c0c0"/>
<rect x="698" y="441" width="3" height="5" fill="#c0c0c0"/>
<rect x="706" y="441" width="3" height="4" fill="#c0c0c0"/>
<rect x="714" y="439" width="3" height="2" fill="#c0c0c0"/>
<rect x="722" y="436" width="3" height="5" fill="#c0c0c0"/>
<rect x="730" y="434" width="3" height="7" fill="#c0c0c0"/>
<rect x="738" y="434" width="3" height="7" fill="#c0c0c0"/>
<rect x="746" y="432" width="3" height="9" fill="#c0c0c0"/>
<rect x="754" y="429" width="3" height="12" fill="#c0c0c0"/>
<rect x="762" y="428" width="3" height="13" fill="#c0c0c0"/>
<rect x="770" y="425" width="3" height="16" fill="#c0c0c0"/>
<rect x="778" y="423" width="3" height="18" fill="#c0c0c0"/>
<rect x="786" y="420" width="3" height="21" fill="#c0c0c0"/>
<rect x="794" y="419" width="3" height="22" fill="#c0c0c0"/>
<rect x="802" y="419" width="3" height="22" fill="#c0c0c0"/>
<rect x="810" y="419" width="3" height="22" fill="#c0c0c0"/>
<rect x="818" y="416" width="3" height="25" fill="#c0c0c0"/>
<rect x="826" y="415" width="3" height="26" fill="#c0c0c0"/>
<rect x="834" y="415" width="3" height="26" fill="#c0c0c0"/>
<rect x="842" y="414" width="3" height="27" fill="#c0c0c0"/>
<rect x="850" y="412" width="3" height="29" fill="#c0c0c0"/>
<rect x="858" y="411" width="3" height="30" fill="#c0c0c0"/>
<rect x="866" y="410" width="3" height="31" fill="#c0c0c0"/>
<rect x="874" y="410" width="3" height="31" fill="#c0c0c0"/>
<rect x="882" y="412" width="3" height="29" fill="#c0c0c0"/>
<rect x="890" y="417" width="3" height="24" fill="#c0c0c0"/>
<rect x="898" y="421" width="3" height="20" fill="#c0c0c0"/>
<rect x="906" y="423" width="3" height="18" fill="#c0c0c0"/>
<rect x="914" y="425" width="3" height="16" fill="#c0c0c0"/>
<polyline points="3.5,417.5 17.5,422.5 33.5,427.5 58.5,432.5 75.5,434.5 91.5,435.0 114.5,435.5 126.5,435.5 141.5,434.5 157.5,430.5 174.5,425.5 191.5,422.5 207.5,422.5 217.5,424.5 227.5,426.5 237.5,429.5 243.5,431.5 253.5,433.5 260.5,435.5 270.5,437.5 280.5,438.5 299.5,439.0 318.5,439.0 326.5,437.5 336.5,435.5 346.5,434.5 356.5,433.5 366.5,431.5 376.5,430.0 389.5,430.0 400.5,429.0 423.5,430.0 433.5,432.0 446.5,435.0 458.5,437.5 471.5,440.0 483.5,442.5 493.5,445.5 506.5,449.5 519.5,453.5 526.5,455.5 539.5,458.5 548.5,461.5 557.5,463.5 569.5,466.0 579.5,468.0 586.5,468.8 614.5,468.8 631.5,467.5 641.5,465.5 654.5,463.5 666.5,461.5 676.5,459.5 687.5,456.0 699.5,453.5 712.5,450.5 724.5,447.5 732.5,444.5 745.5,441.1 755.5,438.5 763.5,436.5 772.5,433.5 780.5,431.5 788.5,429.5 800.5,426.5 813.5,424.1 826.5,420.5 840.5,418.5 851.5,416.5 861.5,415.5 873.5,413.8 888.5,413.5 903.5,413.8 911.5,415.1 915.5,415.9" fill="none" stroke="#ff0000" stroke-width="1" />
</g>
<text x="6.69" y="418" font-family="'DejaVu Sans Condensed', 'DejaVu Sans', sans-serif" font-size="9.4" fill="#000" text-anchor="start" font-weight="normal" textLength="148.08" lengthAdjust="spacingAndGlyphs" stroke="#000" stroke-width="0.2">MACD(12,26,9) 0.004360 0.006901</text>
<rect x="1166" y="405" width="2" height="1" fill="#000"/>
<rect x="1166" y="441" width="2" height="1" fill="#000"/>
<rect x="1166" y="473" width="2" height="1" fill="#000"/>
<text x="1168.65" y="444.6" font-family="'DejaVu Sans Condensed', 'DejaVu Sans', sans-serif" font-size="9.4" fill="#000" text-anchor="start" font-weight="normal" textLength="18.81" lengthAdjust="spacingAndGlyphs" stroke="#000" stroke-width="0.2">0.00</text>
<text x="1168.62" y="416" font-family="'DejaVu Sans Condensed', 'DejaVu Sans', sans-serif" font-size="9.4" fill="#000" text-anchor="start" font-weight="normal" textLength="41.92" lengthAdjust="spacingAndGlyphs" stroke="#000" stroke-width="0.2">0.009345</text>
<text x="1168.77" y="470.6" font-family="'DejaVu Sans Condensed', 'DejaVu Sans', sans-serif" font-size="9.4" fill="#000" text-anchor="start" font-weight="normal" textLength="45.1" lengthAdjust="spacingAndGlyphs" stroke="#000" stroke-width="0.2">-0.008902</text>
<g clip-path="url(#rsiclip)">
<line x1="4" y1="498.5" x2="1165" y2="498.5" stroke="#c0c0c0" stroke-width="1" stroke-dasharray="3,3" shape-rendering="crispEdges"/>
<line x1="4" y1="526.5" x2="1165" y2="526.5" stroke="#c0c0c0" stroke-width="1" stroke-dasharray="3,3" shape-rendering="crispEdges"/>
<polyline points="2.5,514.8 3.5,514.8 12.2,515.0 25.7,510.8 37.4,510.8 44.1,512.8 54.2,509.4 67.6,508.8 76.0,512.8 82.7,514.1 89.4,512.8 106.2,512.8 123.0,504.9 131.4,502.7 139.8,496.0 149.8,496.0 155.7,497.3 163.3,510.8 171.6,513.8 180.0,513.8 188.4,509.1 196.3,512.6 228.6,512.6 235.2,516.3 240.2,517.9 245.2,519.1 250.2,517.9 260.1,516.6 268.4,509.6 275.0,507.7 283.3,510.0 294.9,510.0 301.5,508.8 308.1,511.0 314.8,508.8 323.9,513.8 331.3,509.6 339.6,506.7 349.6,505.5 356.2,503.8 362.8,502.7 366.1,503.0 372.8,506.3 380.2,513.8 392.1,513.8 397.1,514.9 404.5,515.9 412.0,512.6 419.9,508.0 426.9,512.6 435.2,515.9 445.1,515.9 451.8,517.9 461.7,518.8 468.3,517.6 474.9,520.4 484.9,524.9 489.9,522.9 509.7,522.9 516.4,525.4 524.7,527.9 531.3,526.5 537.9,528.2 551.2,527.9 556.1,529.2 562.8,529.9 571.1,525.4 582.1,524.9 592.0,522.9 602.0,521.6 610.3,522.9 619.4,524.9 626.8,520.9 633.5,519.9 640.1,520.4 643.4,520.9 651.7,516.6 660.0,519.9 668.3,511.6 673.2,511.0 679.9,511.3 689.8,512.6 698.9,513.9 706.4,508.8 716.3,501.0 723.8,505.0 732.1,506.0 739.5,508.8 746.1,505.5 752.8,503.3 764.6,502.7 772.1,499.7 778.7,501.0 787.8,498.9 795.3,501.7 801.9,502.7 811.9,502.7 820.2,497.2 828.4,503.0 836.7,501.7 846.7,499.4 855.8,498.0 869.9,498.0 874.8,499.4 883.1,505.0 891.4,514.6 899.7,514.6 907.1,511.0 915.4,511.0" fill="none" stroke="#1e90ff" stroke-width="1" shape-rendering="crispEdges"/>
</g>
<text x="6.17" y="488.8" font-family="'DejaVu Sans Condensed', 'DejaVu Sans', sans-serif" font-size="9.4" fill="#000" text-anchor="start" font-weight="normal" textLength="69.0" lengthAdjust="spacingAndGlyphs" stroke="#000" stroke-width="0.2">RSI(14) 53.9144</text>
<rect x="1166" y="476" width="2" height="1" fill="#000"/>
<rect x="1166" y="498" width="2" height="1" fill="#000"/>
<rect x="1166" y="526" width="2" height="1" fill="#000"/>
<rect x="1166" y="548" width="2" height="1" fill="#000"/>
<text x="1168.34" y="486.9" font-family="'DejaVu Sans Condensed', 'DejaVu Sans', sans-serif" font-size="9.4" fill="#000" text-anchor="start" font-weight="normal" textLength="16.77" lengthAdjust="spacingAndGlyphs" stroke="#000" stroke-width="0.2">100</text>
<text x="1168.58" y="502" font-family="'DejaVu Sans Condensed', 'DejaVu Sans', sans-serif" font-size="9.4" fill="#000" text-anchor="start" font-weight="normal" textLength="11.18" lengthAdjust="spacingAndGlyphs" stroke="#000" stroke-width="0.2">70</text>
<text x="1168.63" y="530" font-family="'DejaVu Sans Condensed', 'DejaVu Sans', sans-serif" font-size="9.4" fill="#000" text-anchor="start" font-weight="normal" textLength="11.18" lengthAdjust="spacingAndGlyphs" stroke="#000" stroke-width="0.2">30</text>
<text x="1168.72" y="544.7" font-family="'DejaVu Sans Condensed', 'DejaVu Sans', sans-serif" font-size="9.4" fill="#000" text-anchor="start" font-weight="normal" textLength="5.59" lengthAdjust="spacingAndGlyphs" stroke="#000" stroke-width="0.2">0</text>
<rect x="3" y="549" width="1" height="3" fill="#000"/>
<text x="1.36" y="560.9" font-family="'DejaVu Sans Condensed', 'DejaVu Sans', sans-serif" font-size="9.3" fill="#000" text-anchor="start" font-weight="normal" textLength="47.71" lengthAdjust="spacingAndGlyphs" stroke="#000" stroke-width="0.2">30 Jul 2021</text>
<rect x="67" y="549" width="1" height="3" fill="#000"/>
<text x="65.67" y="560.9" font-family="'DejaVu Sans Condensed', 'DejaVu Sans', sans-serif" font-size="9.3" fill="#000" text-anchor="start" font-weight="normal" textLength="48.4" lengthAdjust="spacingAndGlyphs" stroke="#000" stroke-width="0.2">9 Aug 2021</text>
<rect x="131" y="549" width="1" height="3" fill="#000"/>
<text x="129.29" y="560.9" font-family="'DejaVu Sans Condensed', 'DejaVu Sans', sans-serif" font-size="9.3" fill="#000" text-anchor="start" font-weight="normal" textLength="53.38" lengthAdjust="spacingAndGlyphs" stroke="#000" stroke-width="0.2">18 Aug 2021</text>
<rect x="195" y="549" width="1" height="3" fill="#000"/>
<text x="193.38" y="560.9" font-family="'DejaVu Sans Condensed', 'DejaVu Sans', sans-serif" font-size="9.3" fill="#000" text-anchor="start" font-weight="normal" textLength="54.09" lengthAdjust="spacingAndGlyphs" stroke="#000" stroke-width="0.2">27 Aug 2021</text>
<rect x="259" y="549" width="1" height="3" fill="#000"/>
<text x="258.02" y="560.9" font-family="'DejaVu Sans Condensed', 'DejaVu Sans', sans-serif" font-size="9.3" fill="#000" text-anchor="start" font-weight="normal" textLength="47.65" lengthAdjust="spacingAndGlyphs" stroke="#000" stroke-width="0.2">6 Sep 2021</text>
<rect x="323" y="549" width="1" height="3" fill="#000"/>
<text x="321.29" y="560.9" font-family="'DejaVu Sans Condensed', 'DejaVu Sans', sans-serif" font-size="9.3" fill="#000" text-anchor="start" font-weight="normal" textLength="52.36" lengthAdjust="spacingAndGlyphs" stroke="#000" stroke-width="0.2">15 Sep 2021</text>
<rect x="387" y="549" width="1" height="3" fill="#000"/>
<text x="385.39" y="560.9" font-family="'DejaVu Sans Condensed', 'DejaVu Sans', sans-serif" font-size="9.3" fill="#000" text-anchor="start" font-weight="normal" textLength="52.67" lengthAdjust="spacingAndGlyphs" stroke="#000" stroke-width="0.2">24 Sep 2021</text>
<rect x="451" y="549" width="1" height="3" fill="#000"/>
<text x="449.59" y="560.9" font-family="'DejaVu Sans Condensed', 'DejaVu Sans', sans-serif" font-size="9.3" fill="#000" text-anchor="start" font-weight="normal" textLength="46.48" lengthAdjust="spacingAndGlyphs" stroke="#000" stroke-width="0.2">4 Oct 2021</text>
<rect x="515" y="549" width="1" height="3" fill="#000"/>
<text x="513.28" y="560.9" font-family="'DejaVu Sans Condensed', 'DejaVu Sans', sans-serif" font-size="9.3" fill="#000" text-anchor="start" font-weight="normal" textLength="51.99" lengthAdjust="spacingAndGlyphs" stroke="#000" stroke-width="0.2">13 Oct 2021</text>
<rect x="579" y="549" width="1" height="3" fill="#000"/>
<text x="577.69" y="560.9" font-family="'DejaVu Sans Condensed', 'DejaVu Sans', sans-serif" font-size="9.3" fill="#000" text-anchor="start" font-weight="normal" textLength="51.68" lengthAdjust="spacingAndGlyphs" stroke="#000" stroke-width="0.2">22 Oct 2021</text>
<rect x="643" y="549" width="1" height="3" fill="#000"/>
<text x="641.66" y="560.9" font-family="'DejaVu Sans Condensed', 'DejaVu Sans', sans-serif" font-size="9.3" fill="#000" text-anchor="start" font-weight="normal" textLength="49.43" lengthAdjust="spacingAndGlyphs" stroke="#000" stroke-width="0.2">1 Nov 2021</text>
<rect x="707" y="549" width="1" height="3" fill="#000"/>
<text x="705.88" y="560.9" font-family="'DejaVu Sans Condensed', 'DejaVu Sans', sans-serif" font-size="9.3" fill="#000" text-anchor="start" font-weight="normal" textLength="53.79" lengthAdjust="spacingAndGlyphs" stroke="#000" stroke-width="0.2">10 Nov 2021</text>
<rect x="771" y="549" width="1" height="3" fill="#000"/>
<text x="769.36" y="560.9" font-family="'DejaVu Sans Condensed', 'DejaVu Sans', sans-serif" font-size="9.3" fill="#000" text-anchor="start" font-weight="normal" textLength="54.62" lengthAdjust="spacingAndGlyphs" stroke="#000" stroke-width="0.2">19 Nov 2021</text>
<rect x="835" y="549" width="1" height="3" fill="#000"/>
<text x="833.98" y="560.9" font-family="'DejaVu Sans Condensed', 'DejaVu Sans', sans-serif" font-size="9.3" fill="#000" text-anchor="start" font-weight="normal" textLength="53.99" lengthAdjust="spacingAndGlyphs" stroke="#000" stroke-width="0.2">29 Nov 2021</text>
<rect x="899" y="549" width="1" height="3" fill="#000"/>
<text x="897.64" y="560.9" font-family="'DejaVu Sans Condensed', 'DejaVu Sans', sans-serif" font-size="9.3" fill="#000" text-anchor="start" font-weight="normal" textLength="47.62" lengthAdjust="spacingAndGlyphs" stroke="#000" stroke-width="0.2">8 Dec 2021</text>
<rect x="0" y="569" width="1207" height="1" fill="#e6e6e6"/>
<rect x="0" y="571" width="1207" height="1" fill="#000"/>
<rect x="0" y="572" width="1207" height="1" fill="#f8f8f8"/>
<rect x="0" y="573" width="1207" height="18" fill="#f0f0f0"/>
<rect x="0" y="591" width="1207" height="1" fill="#fcfcfc"/>
<rect x="0" y="592" width="1207" height="3" fill="#f0f0f0"/>
<rect x="0" y="595" width="1207" height="1" fill="#a0a0a0"/>
<rect x="416" y="571" width="108" height="19" fill="#000"/>
<rect x="417" y="571" width="106" height="18" fill="#fff"/>
<text x="14.04" y="585.7" font-family="'Liberation Sans', Arial, sans-serif" font-size="12.5" fill="#6a6a6a" text-anchor="start" font-weight="normal" textLength="78.99" lengthAdjust="spacingAndGlyphs" stroke="none">USDX,Weekly</text>
<text x="114.4" y="585.7" font-family="'Liberation Sans', Arial, sans-serif" font-size="12.5" fill="#6a6a6a" text-anchor="start" font-weight="normal" textLength="85.72" lengthAdjust="spacingAndGlyphs" stroke="none">EURUSD-,Daily</text>
<text x="221.98" y="585.7" font-family="'Liberation Sans', Arial, sans-serif" font-size="12.5" fill="#6a6a6a" text-anchor="start" font-weight="normal" textLength="86.95" lengthAdjust="spacingAndGlyphs" stroke="none">AUDUSD-,Daily</text>
<text x="330.97" y="585.7" font-family="'Liberation Sans', Arial, sans-serif" font-size="12.5" fill="#6a6a6a" text-anchor="start" font-weight="normal" textLength="73.19" lengthAdjust="spacingAndGlyphs" stroke="none">USDCHF-,H4</text>
<text x="426.35" y="585.7" font-family="'Liberation Sans', Arial, sans-serif" font-size="12.5" fill="#000" text-anchor="start" font-weight="normal" textLength="86.77" lengthAdjust="spacingAndGlyphs" stroke="none">USDCAD-,Daily</text>
<text x="535.44" y="585.7" font-family="'Liberation Sans', Arial, sans-serif" font-size="12.5" fill="#6a6a6a" text-anchor="start" font-weight="normal" textLength="88.48" lengthAdjust="spacingAndGlyphs" stroke="none">USDCNH-,Daily</text>
<text x="648.22" y="585.7" font-family="'Liberation Sans', Arial, sans-serif" font-size="12.5" fill="#6a6a6a" text-anchor="start" font-weight="normal" textLength="99.2" lengthAdjust="spacingAndGlyphs" stroke="none">XAUUSD-,Weekly</text>
<text x="770.0" y="585.7" font-family="'Liberation Sans', Arial, sans-serif" font-size="12.5" fill="#6a6a6a" text-anchor="start" font-weight="normal" textLength="58.13" lengthAdjust="spacingAndGlyphs" stroke="none">UKOil-,H1</text>
<text x="850.57" y="585.7" font-family="'Liberation Sans', Arial, sans-serif" font-size="12.5" fill="#6a6a6a" text-anchor="start" font-weight="normal" textLength="78.26" lengthAdjust="spacingAndGlyphs" stroke="none">DJ30-,Weekly</text>
<text x="950.02" y="585.7" font-family="'Liberation Sans', Arial, sans-serif" font-size="12.5" fill="#6a6a6a" text-anchor="start" font-weight="normal" textLength="74.6" lengthAdjust="spacingAndGlyphs" stroke="none">UK100-,Daily</text>
<rect x="104" y="576" width="1" height="11" fill="#606060"/>
<rect x="212" y="576" width="1" height="11" fill="#606060"/>
<rect x="320" y="576" width="1" height="11" fill="#606060"/>
<rect x="636" y="576" width="1" height="11" fill="#606060"/>
<rect x="760" y="576" width="1" height="11" fill="#606060"/>
<rect x="840" y="576" width="1" height="11" fill="#606060"/>
<rect x="940" y="576" width="1" height="11" fill="#606060"/>
<rect x="1037" y="576" width="1" height="11" fill="#606060"/>
<polygon points="1184,577 1184,583 1181,580" fill="#8a8a8a"/>
<polygon points="1200,577 1200,583 1203,580" fill="#8a8a8a"/>
</svg>
</body></html>
